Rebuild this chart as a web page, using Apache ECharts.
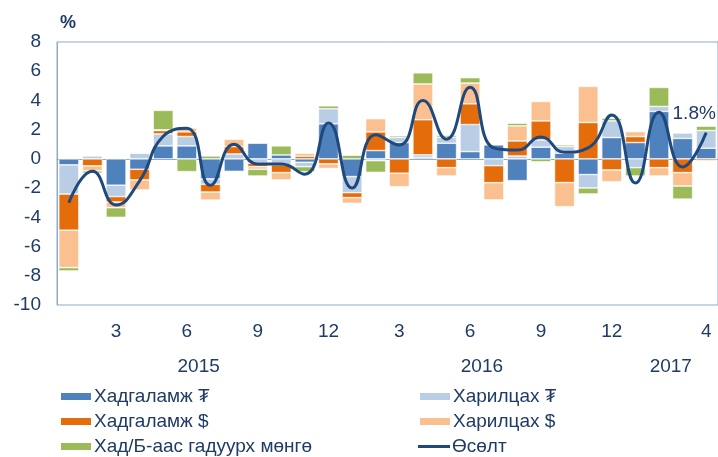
<!DOCTYPE html>
<html lang="mn">
  <head>
    <meta charset="UTF-8" />
    <title>Мөнгөний өсөлт</title>
    <script src="https://cdn.jsdelivr.net/npm/echarts@6.0.0/dist/echarts.min.js"></script>
    <style>
      body { margin: 0; background: #fff; }
      #main { width: 718px; height: 457px; }
    </style>
  </head>
  <body>
    <div id="main"></div>

    <script>
      // сар (2015.1 - 2017.4)
      var months = [1,2,3,4,5,6,7,8,9,10,11,12, 1,2,3,4,5,6,7,8,9,10,11,12, 1,2,3,4]
      var years = ["2015", "2016", "2017"]
      var yearPos = [6, 18, 26] // жилийн бүлгийн голд

      // хувь нэмэр, %
      var hadMNT = [-0.41,0,-1.8,-0.71,0.89,0.89,-1.37,-0.85,1.07,0.27,-0.23,2.4, -1.21,0.57,1.12,0.1,1.07,0.5,0.96,-1.49,0.8,0.39,-1.07,1.46, 1.12,3.25,1.4,0.73]
      var harMNT = [-2.0,0.2,-0.78,0.39,0.82,0.64,-0.37,0.34,-0.3,-0.41,-0.3,1.03, -1.1,-0.12,0.34,0.18,0.41,1.85,-0.46,0.2,0.5,0.46,-0.92,1.14, -0.6,0.34,0.37,1.21]
      var hadUSD = [-2.47,-0.48,-0.37,-0.73,0.23,0.32,-0.53,0.5,-0.23,-0.53,0.18,-0.34, -0.34,1.28,-0.98,2.4,-0.6,1.42,-1.17,1.03,1.3,-1.62,2.49,-0.76, 0.41,-0.6,-0.94,-0.14]
      var harUSD = [-2.56,-0.34,-0.39,-0.69,0.05,0.27,-0.55,0.5,-0.18,-0.5,0.2,-0.32, -0.39,0.9,-0.92,2.45,-0.57,1.42,-1.19,1.03,1.33,-1.65,2.47,-0.8, 0.34,-0.57,-0.92,0]
      var gadMongo = [-0.23,-0.16,-0.66,0.05,1.33,-0.87,0.2,-0.05,-0.46,0.62,-0.35,0.2, 0.25,-0.8,0.12,0.76,0.14,0.37,0,0.18,-0.2,0.11,-0.41,0.18, -0.57,1.3,-0.89,0.3]
      var osolt = [-3.0,-0.85,-3.15,-1.5,1.55,2.1,-1.8,1.0,-0.35,-0.35,-1.05,2.45, -2.0,1.65,0.95,4.0,1.35,4.9,0.75,0.6,1.5,0.45,0.75,3.0, -1.65,3.2,-0.55,1.8]

      var txt = "#1f3b66"
      var axisCol = "#8eaacb"
      var font = "Liberation Sans"
      var fs = 19

      var mChart = echarts.init(document.getElementById("main"))

      function bar(name, data, color) {
        return {
          name: name,
          type: "bar",
          stack: "total",
          data: data,
          barCategoryGap: "15%",
          itemStyle: { color: color, borderColor: "#fff", borderWidth: 0.6 },
        }
      }

      // легенд: нэг мөрөнд нэг зүйл
      function leg(name, left, top, isLine) {
        return {
          data: [name],
          left: left, top: top,
          icon: "rect",
          itemWidth: 32, itemHeight: isLine ? 3 : 9,
          textStyle: { color: txt, fontSize: fs, fontFamily: font, padding: [0, 0, 0, -3] },
        }
      }

      var last = osolt.length - 1
      var lineData = osolt.map(function (v, i) {
        if (i !== last) return v
        return {
          value: v,
          label: {
            show: true,
            position: "top",
            offset: [-12, -4],
            formatter: "{c}%",
            color: txt,
            fontSize: fs,
            fontFamily: font,
          },
        }
      })

      var option = {
        animation: false,
        grid: {
          left: 57, right: 0, top: 42, bottom: 152,
          show: true, borderColor: axisCol, borderWidth: 1,
        },
        xAxis: [
          {
            type: "category",
            data: months,
            axisLine: { lineStyle: { color: axisCol } },
            axisTick: { show: false },
            axisLabel: {
              color: txt, fontSize: fs, fontFamily: font, margin: 17,
              interval: function (i) { return (i % 3 === 2 && i < 24) || i === last },
            },
          },
          {
            type: "value",
            position: "bottom",
            min: 0, max: months.length,
            axisLine: { show: false },
            axisTick: { show: false },
            splitLine: { show: false },
            axisLabel: {
              customValues: yearPos,
              color: txt, fontSize: fs, fontFamily: font, margin: 52,
              formatter: function (v) { return years[yearPos.indexOf(v)] },
            },
          },
        ],
        yAxis: {
          type: "value",
          min: -10, max: 8, interval: 2,
          name: "%",
          nameGap: 10,
          nameTextStyle: { color: txt, fontSize: 18, fontFamily: font, fontWeight: "bold", padding: [0, 0, 0, 22] },
          axisLine: { show: true, lineStyle: { color: axisCol } },
          axisTick: { show: false },
          splitLine: { show: false },
          axisLabel: { color: txt, fontSize: fs, fontFamily: font, margin: 16 },
        },
        legend: [
          leg("Хадгаламж ₮", 54, 382),
          leg("Хадгаламж $", 54, 407),
          leg("Хад/Б-аас гадуурх мөнгө", 54, 432),
          leg("Харилцах ₮", 413, 382),
          leg("Харилцах $", 413, 407),
          leg("Өсөлт", 413, 432, true),
        ],
        series: [
          bar("Хадгаламж ₮", hadMNT, "#4f81bd"),
          bar("Харилцах ₮", harMNT, "#b9cde5"),
          bar("Хадгаламж $", hadUSD, "#e46c0a"),
          bar("Харилцах $", harUSD, "#fac090"),
          bar("Хад/Б-аас гадуурх мөнгө", gadMongo, "#9bbb59"),
          {
            name: "Өсөлт",
            type: "line",
            data: lineData,
            smooth: true,
            symbol: "circle",
            symbolSize: 0.1,
            showSymbol: true,
            lineStyle: { color: "#1f497d", width: 3 },
            itemStyle: { color: "#1f497d" },
          },
        ],
      }
      mChart.setOption(option)
    </script>
  </body>
</html>
